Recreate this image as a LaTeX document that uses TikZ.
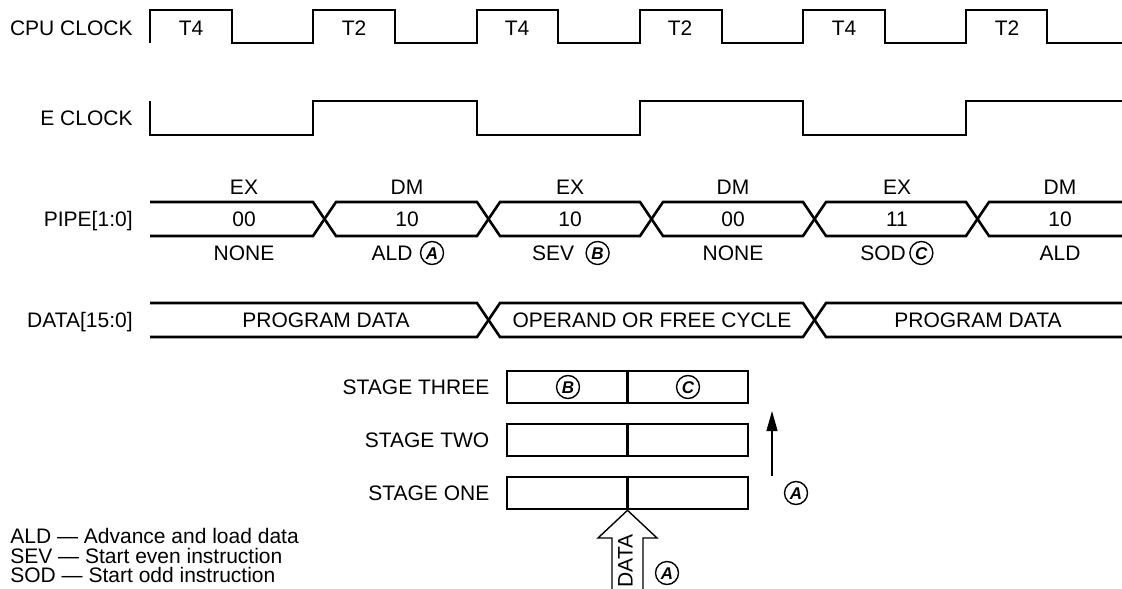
\documentclass[tikz,border=0pt]{standalone}
\usepackage{fontspec}
\setmainfont{Liberation Sans}
\usetikzlibrary{positioning, arrows.meta}

\begin{document}
\begin{tikzpicture}[x=0.5pt, y=-0.5pt, node distance=26.5pt,
    every node/.style={font=\fontsize{10.5}{12}\selectfont, inner sep=1pt, text height=7.5pt, text depth=0pt},
    sig/.style={line width=1.3pt, line join=miter},
    tagcircle/.style={circle, draw, line width=0.7pt, minimum size=11.5pt, inner sep=0pt,
        font=\fontsize{8.5}{9}\selectfont\bfseries\itshape, text height=6.1pt},
    stagebox/.style={rectangle, draw, line width=1.3pt, minimum width=120.5pt, minimum height=16pt}]

    \useasboundingbox (0,0) rectangle (1122,588);

    % signal names
    \node[anchor=east] (cpuname) at (135,28) {CPU CLOCK};
    \node[anchor=east] (ename) at (135,118) {E CLOCK};
    \node[anchor=east] (pipename) at (135,219) {PIPE[1:0]};
    \node[anchor=east] (dataname) at (135,320) {DATA[15:0]};

    % CPU clock
    \draw[sig] (150,43) -- (150,10) -- (232,10) -- (232,43) -- (313,43) -- (313,10) -- (395,10) -- (395,43)
        -- (477,43) -- (477,10) -- (558,10) -- (558,43) -- (640,43) -- (640,10) -- (722,10) -- (722,43)
        -- (803,43) -- (803,10) -- (885,10) -- (885,43) -- (966,43) -- (966,10) -- (1047,10) -- (1047,43) -- (1122,43);
    \node (t1) at (191,28) {T4};
    \node (t2) at (354,28) {T2};
    \node (t3) at (517,28) {T4};
    \node (t4) at (680,28) {T2};
    \node (t5) at (844,28) {T4};
    \node (t6) at (1007,28) {T2};

    % E clock
    \draw[sig] (150,101) -- (150,135) -- (313,135) -- (313,101) -- (477,101) -- (477,135) -- (640,135)
        -- (640,101) -- (803,101) -- (803,135) -- (966,135) -- (966,101) -- (1122,101);

    % PIPE bus
    \draw[sig] (150,202) -- (313,202) -- (336,236) -- (477,236) -- (500,202) -- (640,202) -- (663,236)
        -- (803,236) -- (826,202) -- (966,202) -- (989,236) -- (1122,236);
    \draw[sig] (150,236) -- (313,236) -- (336,202) -- (477,202) -- (500,236) -- (640,236) -- (663,202)
        -- (803,202) -- (826,236) -- (966,236) -- (989,202) -- (1122,202);

    \node (ph1) at (244,187) {EX};
    \node (ph2) at (407,187) {DM};
    \node (ph3) at (570,187) {EX};
    \node (ph4) at (733,187) {DM};
    \node (ph5) at (897,187) {EX};
    \node (ph6) at (1060,187) {DM};

    \node (v1) at (244,219) {00};
    \node (v2) at (407,219) {10};
    \node (v3) at (570,219) {10};
    \node (v4) at (733,219) {00};
    \node (v5) at (897,219) {11};
    \node (v6) at (1060,219) {10};

    \node (op1) at (244,253) {NONE};
    \node (op2) at (392,253) {ALD};
    \node[tagcircle, right=2.5pt of op2] (opa) {A};
    \node (op3) at (553,253) {SEV};
    \node[tagcircle, right=4.5pt of op3] (opb) {B};
    \node (op4) at (733,253) {NONE};
    \node (op5) at (883,253) {SOD};
    \node[tagcircle, right=0.5pt of op5] (opc) {C};
    \node (op6) at (1060,253) {ALD};

    % DATA bus
    \draw[sig] (150,303) -- (477,303) -- (500,337) -- (803,337) -- (826,303) -- (1122,303);
    \draw[sig] (150,337) -- (477,337) -- (500,303) -- (803,303) -- (826,337) -- (1122,337);
    \node (d1) at (326,320) {PROGRAM DATA};
    \node (d2) at (652,320) {OPERAND OR FREE CYCLE};
    \node (d3) at (978,320) {PROGRAM DATA};

    % pipeline stages
    \node[stagebox] (s3) at (627.5,387) {};
    \node[stagebox] (s2) [below of=s3] {};
    \node[stagebox] (s1) [below of=s2] {};
    \draw[line width=1.3pt] (s3.north) -- (s3.south);
    \draw[line width=1.3pt] (s2.north) -- (s2.south);
    \draw[line width=1.3pt] (s1.north) -- (s1.south);
    \node[left=7pt of s3] (s3name) {STAGE THREE};
    \node[left=7pt of s2] (s2name) {STAGE TWO};
    \node[left=7pt of s1] (s1name) {STAGE ONE};
    \node[tagcircle] (s3b) at (568,387) {B};
    \node[tagcircle] (s3c) at (688,387) {C};

    % shift up
    \coordinate (upfoot) at (772,476);
    \coordinate (uphead) at (772,411);
    \draw[->, >={Triangle[length=10pt, width=5.5pt]}, line width=0.7pt] (upfoot) -- (uphead);
    \node[tagcircle] (upa) at (796,493) {A};

    % data in
    \coordinate (dinl) at (612,600);
    \coordinate (dinr) at (643,600);
    \draw[line width=0.7pt, line join=miter] (dinl) -- (612,538) -- (598,538) -- (s1.south) -- (657,538) -- (643,538) -- (dinr);
    \node[rotate=90] (dinlbl) at (625,561) {DATA};
    \node[tagcircle] (dina) at (667,573) {A};

    % key
    \node[anchor=west] (keyald) at (8,536) {ALD — Advance and load data};
    \node[anchor=west] (keysev) at (8,556) {SEV — Start even instruction};
    \node[anchor=west] (keysod) at (8,575) {SOD — Start odd instruction};

\end{tikzpicture}
\end{document}
